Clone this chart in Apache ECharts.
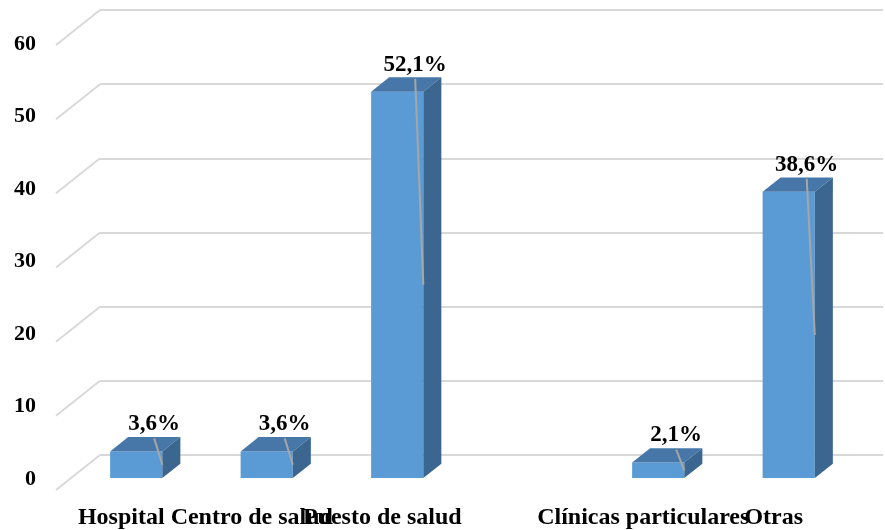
<!doctype html>
<html>
<head>
    <meta charset="utf-8">
    <title>Distribución por lugar</title>
    <style>
        html, body { margin: 0; padding: 0; background: #fff; }
        #chart { width: 885px; height: 530px; }
    </style>
</head>
<body>
<div id="chart"></div>
<script src="https://cdn.jsdelivr.net/npm/echarts@6/dist/echarts.min.js"></script>
<script>
    // datos
    var categorias = ['Hospital', 'Centro de salud', 'Puesto de salud', '', 'Clínicas particulares', 'Otras'];
    var valores = [3.6, 3.6, 52.1, null, 2.1, 38.6];
    var etiquetas = ['3,6%', '3,6%', '52,1%', '', '2,1%', '38,6%'];
    var ticksY = [0, 10, 20, 30, 40, 50, 60];

    // perspectiva (fondo -> frente)
    var PROF_X = -44, PROF_Y = 35;
    var fuente = 'Liberation Serif, Times New Roman, serif';

    var datosBarras = [];
    valores.forEach(function (v, i) {
        if (v != null) datosBarras.push([i, v, etiquetas[i]]);
    });

    function barra3d(params, api) {
        var i = api.value(0), v = api.value(1);
        var base = api.coord([i, 0]);
        var tope = api.coord([i, v]);
        var banda = api.size([1, 0])[0];
        var w = banda * 0.4;
        // cara frontal a 0.66 de la profundidad, cara trasera a 0.25
        var fx = base[0] + PROF_X * 0.66, fy = PROF_Y * 0.66;
        var bx = PROF_X * 0.25 - PROF_X * 0.66, by = PROF_Y * 0.25 - PROF_Y * 0.66;
        var x0 = fx - w / 2, x1 = fx + w / 2;
        var yTop = tope[1] + fy, yBot = base[1] + fy;
        var midY = (yTop + yBot) / 2;
        var lx = fx + 18, ly = yTop - 27;
        return {
            type: 'group',
            children: [
                {type: 'rect', shape: {x: x0, y: yTop, width: w, height: yBot - yTop},
                    style: {fill: '#5B9BD5'}},
                {type: 'polygon', shape: {points: [[x0, yTop], [x1, yTop], [x1 + bx, yTop + by], [x0 + bx, yTop + by]]},
                    style: {fill: '#4677A8'}},
                {type: 'polygon', shape: {points: [[x1, yTop], [x1 + bx, yTop + by], [x1 + bx, yBot + by], [x1, yBot]]},
                    style: {fill: '#3B6690'}},
                {type: 'line', shape: {x1: lx, y1: ly + 14, x2: x1, y2: midY},
                    style: {stroke: '#A6A6A6', lineWidth: 2}},
                {type: 'text', x: lx, y: ly,
                    style: {text: api.value(2), fill: '#000', font: 'bold 23px ' + fuente,
                        align: 'center', verticalAlign: 'middle'}}
            ]
        };
    }

    function diagonal(params, api) {
        var v = api.value(0);
        var p = api.coord([0, v]);
        var izq = p[0] - api.size([1, 0])[0] / 2;
        return {
            type: 'line',
            shape: {x1: izq + PROF_X, y1: p[1] + PROF_Y, x2: izq, y2: p[1]},
            style: {stroke: '#D9D9D9', lineWidth: 2}
        };
    }

    var myChart = echarts.init(document.getElementById('chart'));
    var option = {
        animation: false,
        grid: [
            {left: 100, right: 2, top: 10, bottom: 75},   // pared del fondo
            {left: 56, right: 46, top: 44, bottom: 40}    // plano frontal
        ],
        xAxis: [
            {type: 'category', gridIndex: 0, data: categorias,
                axisLine: {show: false}, axisTick: {show: false}, axisLabel: {show: false}},
            {type: 'category', gridIndex: 1, data: categorias,
                axisLine: {show: false}, axisTick: {show: false},
                axisLabel: {interval: 0, margin: 27, color: '#000', fontFamily: fuente,
                    fontWeight: 'bold', fontSize: 24, hideOverlap: false}}
        ],
        yAxis: [
            {type: 'value', gridIndex: 0, min: 0, max: 60, interval: 10,
                axisLabel: {show: false}, axisLine: {show: false}, axisTick: {show: false},
                splitLine: {lineStyle: {color: '#D9D9D9', width: 2}}},
            {type: 'value', gridIndex: 1, min: 0, max: 60, interval: 10,
                axisLine: {show: false}, axisTick: {show: false}, splitLine: {show: false},
                axisLabel: {margin: 20, color: '#000', fontFamily: fuente, fontWeight: 'bold', fontSize: 22}}
        ],
        series: [
            {type: 'custom', name: 'rejilla', xAxisIndex: 0, yAxisIndex: 0, silent: true,
                renderItem: diagonal, data: ticksY.map(function (t) { return [t]; }), z: 1},
            {type: 'custom', name: 'barras', xAxisIndex: 0, yAxisIndex: 0,
                renderItem: barra3d, data: datosBarras, z: 5}
        ]
    };
    myChart.setOption(option);
</script>
</body>
</html>
